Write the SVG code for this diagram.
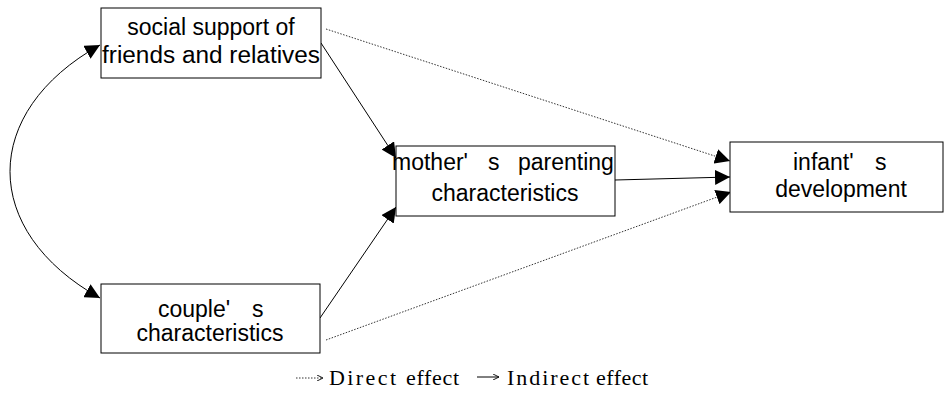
<svg xmlns="http://www.w3.org/2000/svg" width="944" height="407" viewBox="0 0 944 407">
  <style>
    .box { fill: #ffffff; stroke: #000000; stroke-width: 1; }
    .lbl { font-family: "Liberation Sans", Arial, sans-serif; font-size: 23px; fill: #000000; text-anchor: middle; }
    .lbl-s { font-family: "Liberation Sans", Arial, sans-serif; font-size: 23px; fill: #000000; }
    .solid { fill: none; stroke: #000000; stroke-width: 1; }
    .dot { fill: none; stroke: #333333; stroke-width: 1; stroke-dasharray: 1.5 1.5; }
    .leg { font-family: "Liberation Serif", "Times New Roman", serif; font-size: 22px; fill: #000000; }
  </style>
  <defs>
    <marker id="head" viewBox="0 0 10 10" refX="10" refY="5" markerWidth="15" markerHeight="15" markerUnits="userSpaceOnUse" orient="auto-start-reverse">
      <path d="M0,0 L10,5 L0,10 Z" fill="#000000"/>
    </marker>
    <marker id="headSmall" viewBox="0 0 10 10" refX="10" refY="5" markerWidth="6" markerHeight="6" markerUnits="userSpaceOnUse" orient="auto">
      <path d="M0,0 L10,5 L0,10" fill="none" stroke="#000000" stroke-width="1.5"/>
    </marker>
  </defs>

  <g id="connectors">
    <!-- correlation between the two exogenous factors -->
    <path class="solid" d="M100,45 C-20,112 -20,231 100,298" marker-start="url(#head)" marker-end="url(#head)"/>
    <!-- indirect paths through parenting -->
    <line class="solid" x1="321" y1="43" x2="396" y2="158" marker-end="url(#head)"/>
    <line class="solid" x1="320" y1="318" x2="396" y2="207" marker-end="url(#head)"/>
    <line class="solid" x1="615" y1="180" x2="730" y2="177" marker-end="url(#head)"/>
    <!-- direct paths -->
    <line class="dot" x1="326" y1="29" x2="730" y2="161" marker-end="url(#head)"/>
    <line class="dot" x1="326" y1="340" x2="731" y2="192" marker-end="url(#head)"/>
  </g>

  <g id="social-support">
    <rect class="box" x="101" y="8" width="220" height="70"/>
    <text class="lbl" x="211" y="35">social support of</text>
    <text class="lbl" x="211" y="63" textLength="218" lengthAdjust="spacingAndGlyphs">friends and relatives</text>
  </g>

  <g id="couple">
    <rect class="box" x="101" y="284" width="219" height="69"/>
    <text class="lbl-s" y="317"><tspan x="158">couple'</tspan><tspan x="252">s</tspan></text>
    <text class="lbl" x="210" y="341">characteristics</text>
  </g>

  <g id="parenting">
    <rect class="box" x="396" y="146" width="219" height="70"/>
    <text class="lbl-s" y="170"><tspan x="392">mother'</tspan><tspan x="488">s</tspan><tspan x="518">parenting</tspan></text>
    <text class="lbl" x="505" y="201">characteristics</text>
  </g>

  <g id="infant">
    <rect class="box" x="730" y="142" width="213" height="70"/>
    <text class="lbl-s" y="170"><tspan x="793">infant'</tspan><tspan x="875">s</tspan></text>
    <text class="lbl" x="841" y="197">development</text>
  </g>

  <g id="legend">
    <line class="dot" x1="296" y1="378" x2="323" y2="378" marker-end="url(#headSmall)"/>
    <text class="leg" x="329" y="385" textLength="67" lengthAdjust="spacing">Direct</text>
    <text class="leg" x="406" y="385" textLength="53" lengthAdjust="spacing">effect</text>
    <line class="solid" x1="477" y1="377" x2="499" y2="377" marker-end="url(#headSmall)"/>
    <text class="leg" x="507" y="385" textLength="82" lengthAdjust="spacing">Indirect</text>
    <text class="leg" x="596" y="385" textLength="52" lengthAdjust="spacing">effect</text>
  </g>
</svg>
